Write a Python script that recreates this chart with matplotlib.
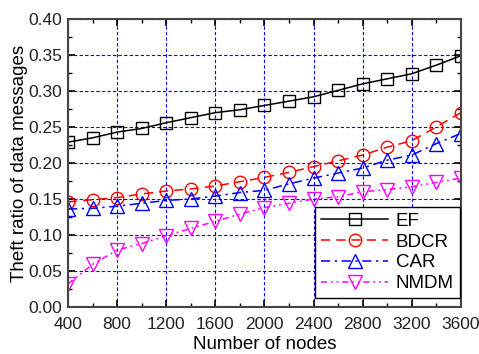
import matplotlib
matplotlib.use("Agg")
import matplotlib.pyplot as plt
from matplotlib.ticker import MultipleLocator

plt.rcParams['font.family'] = ['Liberation Sans', 'DejaVu Sans']

# number of nodes in the network
nodes = [400, 600, 800, 1000, 1200, 1400, 1600, 1800, 2000,
         2200, 2400, 2600, 2800, 3000, 3200, 3400, 3600]

# theft ratio for each scheme
ef = [0.229, 0.235, 0.243, 0.248, 0.256, 0.263, 0.270, 0.274, 0.280,
      0.286, 0.292, 0.301, 0.310, 0.317, 0.324, 0.336, 0.349]
bdcr = [0.146, 0.149, 0.152, 0.157, 0.161, 0.164, 0.168, 0.174, 0.180,
        0.187, 0.195, 0.203, 0.211, 0.222, 0.231, 0.250, 0.270]
car = [0.136, 0.137, 0.140, 0.144, 0.148, 0.150, 0.154, 0.159, 0.162,
       0.171, 0.179, 0.186, 0.193, 0.204, 0.211, 0.227, 0.241]
nmdm = [0.032, 0.059, 0.079, 0.088, 0.099, 0.109, 0.119, 0.129, 0.138,
        0.144, 0.150, 0.153, 0.160, 0.163, 0.167, 0.173, 0.179]

fig = plt.figure(figsize=(4.79, 3.54), dpi=100)
ax = fig.add_axes([0.142, 0.133, 0.820, 0.813])

ms = 9
ax.plot(nodes, ef, color='black', lw=1.1, ls='-', marker='s', ms=ms,
        mfc='none', mec='black', mew=1.0, label='EF')
ax.plot(nodes, bdcr, color='red', lw=1.1, ls=(0, (6, 4)), marker='o', ms=ms,
        mfc='none', mec='red', mew=1.0, label='BDCR')
ax.plot(nodes, car, color='blue', lw=1.1, ls=(0, (6, 3, 1.5, 3)), marker='^', ms=ms + 1,
        mfc='none', mec='blue', mew=1.0, label='CAR')
ax.plot(nodes, nmdm, color='magenta', lw=1.1, ls=(0, (4, 2.5, 1.2, 2.5, 1.2, 2.5)),
        marker='v', ms=ms + 1, mfc='none', mec='magenta', mew=1.0, label='NMDM')

ax.set_xlim(400, 3600)
ax.set_ylim(0.0, 0.40)
ax.xaxis.set_major_locator(MultipleLocator(400))
ax.xaxis.set_minor_locator(MultipleLocator(200))
ax.yaxis.set_major_locator(MultipleLocator(0.05))
ax.yaxis.set_minor_locator(MultipleLocator(0.025))
ax.yaxis.set_major_formatter(plt.FormatStrFormatter('%.2f'))

ax.grid(True, which='major', color='blue', ls=(0, (3, 2)), lw=0.8)
ax.set_axisbelow(True)

ax.tick_params(which='both', direction='in', top=True, right=True,
               labelsize=12.5, labelcolor='#222222')
ax.tick_params(axis='x', pad=7)
ax.tick_params(axis='y', pad=4)
ax.tick_params(which='major', length=5, width=1.2)
ax.tick_params(which='minor', length=3, width=1.0)
for sp in ax.spines.values():
    sp.set_linewidth(1.5)
    sp.set_color('#444444')

ax.set_xlabel('Number of nodes', fontsize=13.5, labelpad=3)
ax.set_ylabel('Theft ratio of data messages', fontsize=13.5, labelpad=0)

leg = ax.legend(loc='lower right', bbox_to_anchor=(0.997, 0.031), fontsize=13.5,
                fancybox=False, framealpha=1, edgecolor='black',
                handlelength=3.6, handletextpad=0.4, borderpad=0.3,
                labelspacing=0.2, borderaxespad=0)
leg.get_frame().set_linewidth(1.0)

fig.savefig('out.png', dpi=100)
